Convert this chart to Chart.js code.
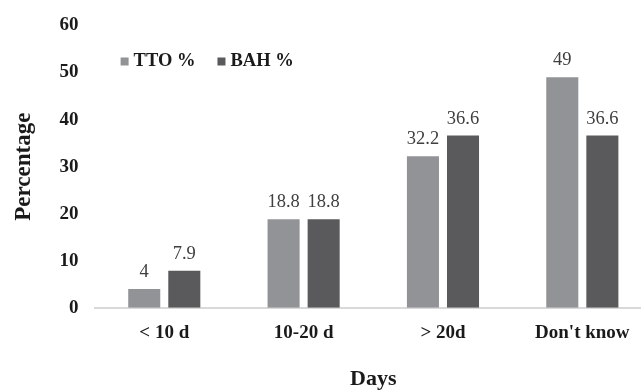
<!DOCTYPE html>
<html>
<head>
<meta charset="utf-8">
<script src="https://cdn.jsdelivr.net/npm/chart.js@4.4.0/dist/chart.umd.min.js"></script>
<style>
  body { margin: 0; background: #fff; overflow: hidden; }
</style>
</head>
<body>
<!-- plot runs a little past the right edge of the window -->
<canvas id="myChart" width="652" height="392"></canvas>
<script>
let labels = ['< 10 d', '10-20 d', '> 20d', "Don't know"];
let tto = [4, 18.8, 32.2, 49];
let bah = [7.9, 18.8, 36.6, 36.6];
let yTicks = [0, 10, 20, 30, 40, 50, 60];

const SERIF = "'Liberation Serif', 'Times New Roman', serif";

// prints each bar's value just above it
let valueLabels = {
    id: 'valueLabels',
    afterDatasetsDraw(chart) {
        let ctx = chart.ctx;
        ctx.save();
        ctx.font = '18.5px ' + SERIF;
        ctx.fillStyle = '#404040';
        ctx.textAlign = 'center';
        ctx.textBaseline = 'alphabetic';
        chart.data.datasets.forEach((ds, i) => {
            chart.getDatasetMeta(i).data.forEach((bar, j) => {
                ctx.fillText(ds.data[j], bar.x, bar.y - 12);
            });
        });
        ctx.restore();
    }
};

// small legend sitting inside the plot, top left
let insideLegend = {
    id: 'insideLegend',
    afterDraw(chart) {
        let ctx = chart.ctx;
        let x = chart.chartArea.left + 26;
        let y = chart.chartArea.top + 36;
        ctx.save();
        ctx.font = 'bold 18.5px ' + SERIF;
        ctx.textBaseline = 'middle';
        chart.data.datasets.forEach(ds => {
            ctx.fillStyle = ds.backgroundColor;
            ctx.fillRect(x, y - 4, 8, 8);
            x += 13;
            ctx.fillStyle = '#1a1a1a';
            ctx.fillText(ds.label, x, y);
            x += ctx.measureText(ds.label).width + 22;
        });
        ctx.restore();
    }
};

let data = {
    labels: labels,
    datasets: [{
        label: 'TTO %',
        backgroundColor: '#929396',
        data: tto,
    }, {
        label: 'BAH %',
        backgroundColor: '#5a5a5c',
        data: bah,
    }]
};

let config = {
    type: 'bar',
    data: data,
    options: {
        responsive: false,
        animation: false,
        barPercentage: 0.8,
        categoryPercentage: 0.575,
        layout: { padding: { top: 0, right: 0, bottom: -1, left: 10 } },
        plugins: {
            tooltip: { enabled: false },
            legend: { display: false }
        },
        scales: {
            x: {
                grid: { display: false, drawTicks: false },
                border: { color: '#d9d9d9', width: 2 },
                ticks: {
                    color: '#1a1a1a',
                    padding: 14,
                    font: { family: SERIF, size: 19, weight: 'bold' }
                },
                title: {
                    display: true,
                    text: 'Days',
                    color: '#1a1a1a',
                    padding: { top: 8, bottom: 0 },
                    font: { family: SERIF, size: 22, weight: 'bold' }
                }
            },
            y: {
                min: 0,
                max: 60,
                grid: { display: false, drawTicks: false },
                border: { display: false },
                afterBuildTicks: (axis) => {
                    axis.ticks = yTicks.map(v => ({ value: v }));
                },
                ticks: {
                    color: '#1a1a1a',
                    padding: 16,
                    font: { family: SERIF, size: 19, weight: 'bold', lineHeight: 1 }
                },
                title: {
                    display: true,
                    text: 'Percentage',
                    color: '#1a1a1a',
                    padding: { top: 0, bottom: 6 },
                    font: { family: SERIF, size: 23, weight: 'bold' }
                }
            }
        }
    },
    plugins: [valueLabels, insideLegend]
};

let myChart = new Chart(document.getElementById('myChart'), config);
</script>
</body>
</html>
